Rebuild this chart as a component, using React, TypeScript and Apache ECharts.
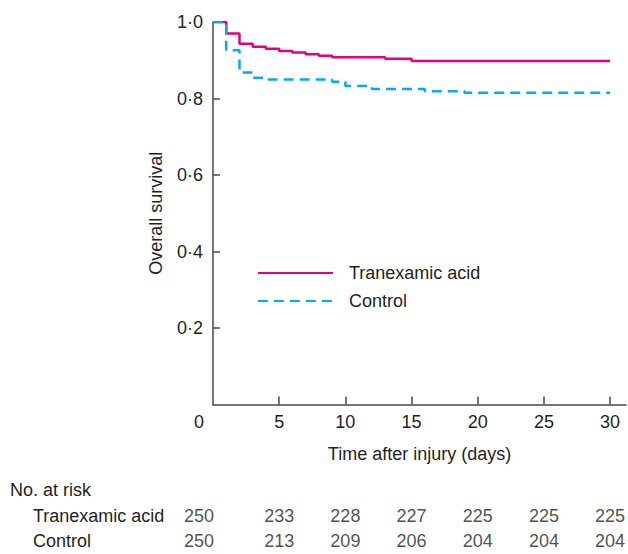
import React, { useEffect, useRef } from 'react';
import * as echarts from 'echarts';

// Kaplan–Meier step data (day of step, survival after step)
const txName = 'Tranexamic acid';
const ctName = 'Control';
const txDays = [0, 1, 2, 3, 4, 5, 6, 7, 8, 9, 13, 15, 30];
const txSurv = [1.0, 0.97, 0.943, 0.935, 0.93, 0.924, 0.92, 0.916, 0.912, 0.908, 0.904, 0.898, 0.898];
const ctDays = [0, 1, 2, 3, 4, 9, 10, 12, 16, 19, 30];
const ctSurv = [1.0, 0.926, 0.868, 0.854, 0.85, 0.844, 0.833, 0.825, 0.819, 0.815, 0.815];

// Axis ticks
const xTickLabels = [0, 5, 10, 15, 20, 25, 30];
const xTicks = [5, 10, 15, 20, 25, 30];
const yTicks = [0.2, 0.4, 0.6, 0.8, 1.0];

// Numbers at risk
const riskDays = [0, 5, 10, 15, 20, 25, 30];
const txRisk = [250, 233, 228, 227, 225, 225, 225];
const ctRisk = [250, 213, 209, 206, 204, 204, 204];
const rowNames = [txName, ctName];

export default function App() {
  const ref = useRef<HTMLDivElement>(null);

  useEffect(() => {
    document.body.style.margin = '0';
    const chart = echarts.init(ref.current!, null, { renderer: 'svg' });
    const font = "'Liberation Sans', Arial, Helvetica, sans-serif";
    const textColor = '#231f20';
    const axisColor = '#4a4a4a';
    const magenta = '#e6007e';
    const cyan = '#00aeef';
    const fs = 18;

    const riskSeries = (name: string, values: number[]) =>
      riskDays.map((d, i) => ({
        value: [d, name, values[i]],
        label: d === 0 ? { offset: [-14, 0] } : undefined,
      }));

    chart.setOption({
      animation: false,
      textStyle: { fontFamily: font, color: textColor },
      title: {
        text: 'No. at risk',
        left: 10,
        top: 481,
        padding: 0,
        textStyle: { fontSize: fs, fontWeight: 'normal', color: textColor, fontFamily: font },
      },
      legend: {
        orient: 'vertical',
        left: 257,
        top: 264,
        itemWidth: 75,
        itemHeight: 14,
        itemGap: 10,
        padding: 0,
        itemStyle: { opacity: 0 },
        textStyle: { fontSize: fs, color: textColor, fontFamily: font, padding: [0, 0, 0, 11] },
        data: [txName, ctName],
      },
      grid: [
        { left: 213, top: 22, width: 413, height: 382.5 },
        { left: 213, top: 503, width: 413, height: 54 },
      ],
      xAxis: [
        {
          gridIndex: 0,
          type: 'value',
          min: 0,
          max: 31.2,
          name: 'Time after injury (days)',
          nameLocation: 'middle',
          nameGap: 40,
          nameTextStyle: { fontSize: fs, color: textColor, fontFamily: font },
          axisLine: { show: true, onZero: false, lineStyle: { color: axisColor, width: 1.5 } },
          axisTick: { show: true, inside: true, length: 8, customValues: xTicks, lineStyle: { color: axisColor, width: 1.5 } },
          axisLabel: {
            customValues: xTickLabels,
            margin: 8,
            fontSize: fs,
            color: textColor,
            fontFamily: font,
            formatter: (v: number) => (v === 0 ? '{z|0}' : String(v)),
            rich: { z: { padding: [0, 28, 0, 0], fontSize: fs, color: textColor, fontFamily: font } },
          },
          splitLine: { show: false },
        },
        { gridIndex: 1, type: 'value', min: 0, max: 31.2, show: false },
      ],
      yAxis: [
        {
          gridIndex: 0,
          type: 'value',
          min: 0,
          max: 1,
          name: 'Overall survival',
          nameLocation: 'middle',
          nameGap: 48,
          nameTextStyle: { fontSize: fs, color: textColor, fontFamily: font },
          axisLine: { show: true, lineStyle: { color: axisColor, width: 1.5 } },
          axisTick: { show: true, inside: true, length: 7, customValues: yTicks, lineStyle: { color: axisColor, width: 1.5 } },
          axisLabel: {
            customValues: yTicks,
            margin: 10,
            fontSize: fs,
            color: textColor,
            fontFamily: font,
            formatter: (v: number) => v.toFixed(1).replace('.', '·'),
          },
          splitLine: { show: false },
        },
        {
          gridIndex: 1,
          type: 'category',
          data: rowNames,
          inverse: true,
          axisLine: { show: false },
          axisTick: { show: false },
          splitLine: { show: false },
          axisLabel: { align: 'left', margin: 180, fontSize: fs, color: textColor, fontFamily: font },
        },
      ],
      series: [
        {
          name: txName,
          type: 'line',
          step: 'end',
          xAxisIndex: 0,
          yAxisIndex: 0,
          symbol: 'none',
          showSymbol: false,
          data: txDays.map((d, i) => [d, txSurv[i]]),
          lineStyle: { color: magenta, width: 2.5 },
          itemStyle: { color: magenta },
        },
        {
          name: ctName,
          type: 'line',
          step: 'end',
          xAxisIndex: 0,
          yAxisIndex: 0,
          symbol: 'none',
          showSymbol: false,
          data: ctDays.map((d, i) => [d, ctSurv[i]]),
          lineStyle: { color: cyan, width: 2.5, type: [10, 6] },
          itemStyle: { color: cyan },
        },
        {
          type: 'scatter',
          xAxisIndex: 1,
          yAxisIndex: 1,
          symbolSize: 1,
          itemStyle: { color: 'transparent' },
          label: {
            show: true,
            position: 'inside',
            fontSize: fs,
            color: textColor,
            fontFamily: font,
            formatter: (p: any) => String(p.value[2]),
          },
          data: [...riskSeries(txName, txRisk), ...riskSeries(ctName, ctRisk)],
        },
      ],
    });
    return () => chart.dispose();
  }, []);

  return <div ref={ref} style={{ width: 628, height: 554 }} />;
}
